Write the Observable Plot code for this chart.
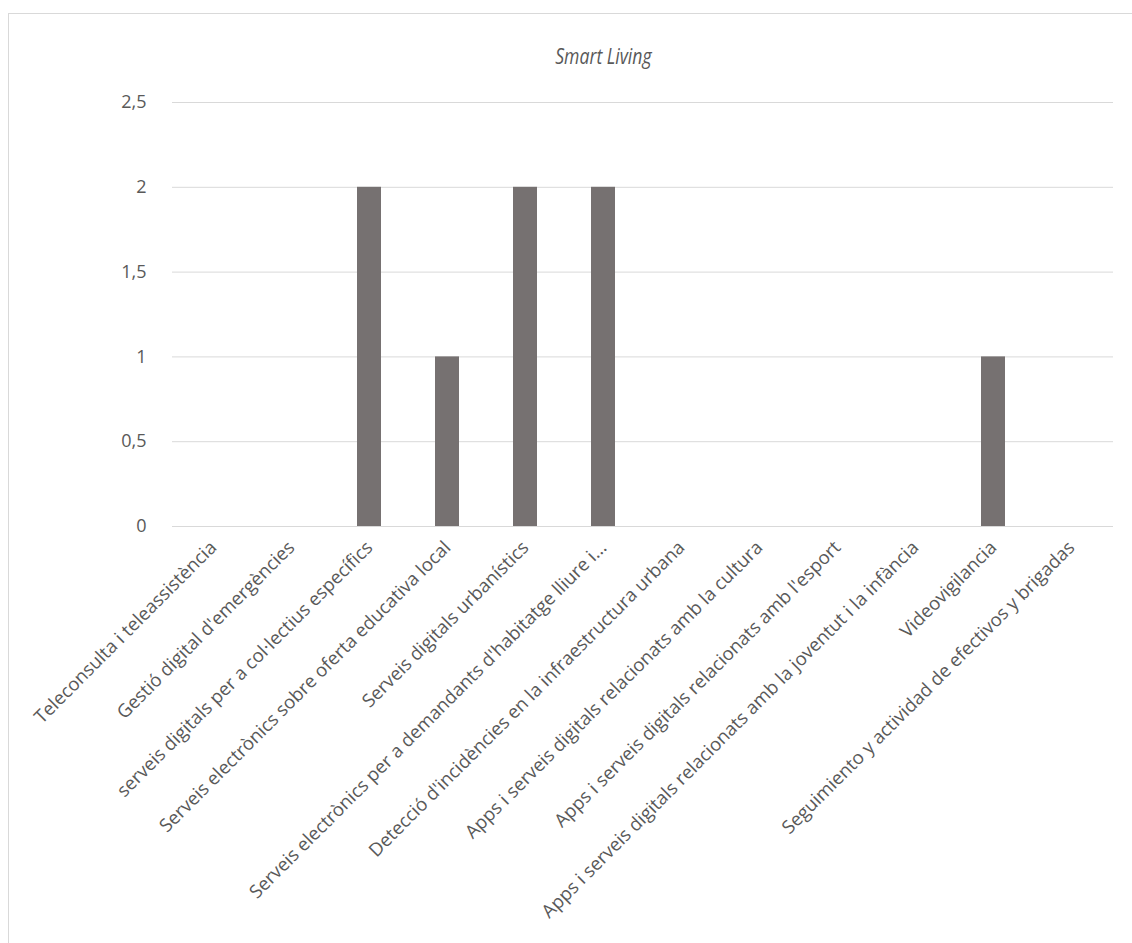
<!DOCTYPE html>
<html><head><meta charset="utf-8">
<script src="https://cdn.jsdelivr.net/npm/d3@7"></script>
<script src="https://cdn.jsdelivr.net/npm/@observablehq/plot@0.6"></script>
<style>
html,body{margin:0;padding:0;background:#fff;overflow:hidden;width:1132px;height:943px;}
#wrap{position:relative;width:1132px;height:943px;font-family:"Open Sans",sans-serif;}
#frame{position:absolute;left:8px;top:13px;width:1140px;height:960px;border:1px solid #d9d9d9;box-sizing:border-box;}
#title{position:absolute;left:0;top:42px;width:1132px;text-align:center;padding-left:74px;box-sizing:border-box;line-height:28px;}
#title span{display:inline-block;font-size:21px;font-style:italic;color:#595959;transform:scaleX(0.84);}
#chart{position:absolute;left:0;top:80px;}
</style></head>
<body><div id="wrap"><div id="frame"></div><div id="title"><span>Smart Living</span></div><div id="chart"></div></div>
<script>
const categories = [
  "Teleconsulta i teleassistència",
  "Gestió digital d'emergències",
  "serveis digitals per a col·lectius específics",
  "Serveis electrònics sobre oferta educativa local",
  "Serveis digitals urbanístics",
  "Serveis electrònics per a demandants d'habitatge lliure i...",
  "Detecció d'incidències en la infraestructura urbana",
  "Apps i serveis digitals relacionats amb la cultura",
  "Apps i serveis digitals relacionats amb l'esport",
  "Apps i serveis digitals relacionats amb la joventut i la infància",
  "Videovigilancia",
  "Seguimiento y actividad de efectivos y brigadas"
];
const values = [0, 0, 2, 1, 2, 2, 0, 0, 0, 0, 1, 0];
const yTicks = [0, 0.5, 1, 1.5, 2, 2.5];

const data = categories.map((c, i) => ({category: c, value: values[i]}));
const fmt = d => String(d).replace(".", ",");

const chart = Plot.plot({
  width: 1132,
  height: 863,
  marginLeft: 172,
  marginRight: 19,
  marginTop: 22,
  marginBottom: 417,
  style: {fontFamily: "Open Sans, sans-serif", fontSize: "18px", color: "#595959", background: "transparent"},
  x: {domain: categories, paddingInner: 0.69, paddingOuter: 0.345, label: null},
  y: {domain: [0, 2.5], label: null},
  marks: [
    Plot.ruleY(yTicks, {stroke: "#d9d9d9", strokeWidth: 1}),
    Plot.barY(data, {x: "category", y: "value", fill: "#767171"}),
    Plot.axisY({ticks: yTicks, tickFormat: fmt, tickSize: 0, tickPadding: 26, label: null, fontSize: 18, fill: "#595959"}),
    Plot.axisX({tickRotate: -45, tickSize: 0, tickPadding: 18, label: null, fontSize: 18.5, fill: "#595959"})
  ]
});
document.getElementById("chart").appendChild(chart);
</script>
</body></html>
